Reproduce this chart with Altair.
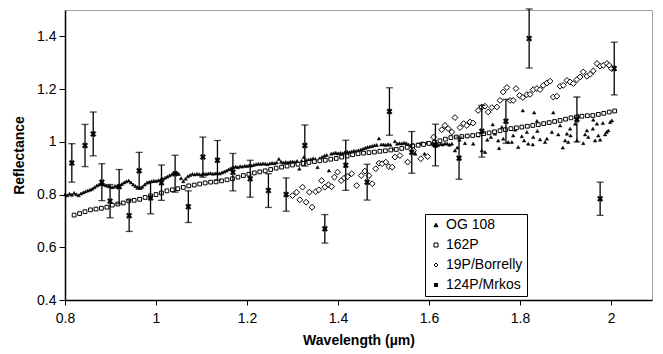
import altair as alt
import pandas as pd

# ---------------- data ----------------
series_names = ["OG 108", "162P", "19P/Borrelly", "124P/Mrkos"]

x_ticks = [0.8, 1.0, 1.2, 1.4, 1.6, 1.8, 2.0]
y_ticks = [0.4, 0.6, 0.8, 1.0, 1.2, 1.4]

og_band_x = [
    0.800, 0.805, 0.810, 0.815, 0.820, 0.825, 0.830, 0.835, 0.840, 0.845,
    0.850, 0.855, 0.860, 0.865, 0.870, 0.875, 0.880, 0.885, 0.890, 0.895,
    0.900, 0.905, 0.910, 0.915, 0.920, 0.925, 0.930, 0.935, 0.940, 0.945,
    0.950, 0.955, 0.960, 0.965, 0.970, 0.975, 0.980, 0.985, 0.990, 0.995,
    1.000, 1.005, 1.010, 1.015, 1.020, 1.025, 1.030, 1.035, 1.040, 1.045,
    1.050, 1.055, 1.060, 1.065, 1.070, 1.075, 1.080, 1.085, 1.090, 1.095,
    1.100, 1.105, 1.110, 1.115, 1.120, 1.125, 1.130, 1.135, 1.140, 1.145,
    1.150, 1.155, 1.160, 1.165, 1.170, 1.175, 1.180, 1.185, 1.190, 1.195,
    1.200, 1.205, 1.210, 1.215, 1.220, 1.225, 1.230, 1.235, 1.240, 1.245,
    1.250, 1.255, 1.260, 1.265, 1.270, 1.275, 1.280, 1.285, 1.290, 1.295,
    1.300, 1.305, 1.310, 1.315, 1.320, 1.325, 1.330, 1.335, 1.340, 1.345,
    1.350, 1.355, 1.360, 1.365, 1.370, 1.375, 1.380, 1.385, 1.390, 1.395,
    1.400, 1.405, 1.410, 1.415, 1.420, 1.425, 1.430, 1.435, 1.440, 1.445,
    1.450, 1.455, 1.460, 1.465, 1.470, 1.475, 1.480, 1.485, 1.490, 1.495,
    1.500, 1.505, 1.510, 1.515, 1.520, 1.525, 1.530, 1.535, 1.540, 1.545,
    1.550, 1.555, 1.560, 1.565, 1.570, 1.575, 1.580, 1.585, 1.590, 1.595,
    1.600, 1.605, 1.610, 1.615, 1.620, 1.625, 1.630, 1.635, 1.640, 1.645,
]
og_band_y = [
    0.800, 0.797, 0.803, 0.799, 0.806, 0.801, 0.797, 0.804, 0.808, 0.812,
    0.815, 0.818, 0.822, 0.828, 0.834, 0.838, 0.842, 0.838, 0.835, 0.832,
    0.830, 0.828, 0.832, 0.830, 0.836, 0.840, 0.846, 0.850, 0.853, 0.846,
    0.838, 0.832, 0.828, 0.826, 0.830, 0.838, 0.845, 0.848, 0.850, 0.852,
    0.851, 0.854, 0.856, 0.860, 0.864, 0.868, 0.873, 0.877, 0.882, 0.884,
    0.878, 0.862, 0.850, 0.860, 0.869, 0.874, 0.878, 0.876, 0.879, 0.877,
    0.875, 0.879, 0.878, 0.880, 0.881, 0.879, 0.880, 0.883, 0.880, 0.884,
    0.887, 0.891, 0.896, 0.900, 0.904, 0.906, 0.904, 0.907, 0.906, 0.909,
    0.908, 0.911, 0.910, 0.913, 0.915, 0.917, 0.916, 0.918, 0.917, 0.915,
    0.918, 0.920, 0.919, 0.922, 0.935, 0.924, 0.921, 0.923, 0.922, 0.924,
    0.925, 0.923, 0.927, 0.898, 0.928, 0.942, 0.930, 0.932, 0.934, 0.937,
    0.935, 0.904, 0.938, 0.942, 0.947, 0.950, 0.891, 0.955, 0.957, 0.959,
    0.956, 0.958, 0.957, 0.960, 0.962, 0.961, 0.963, 0.966, 0.965, 0.968,
    0.970, 0.974, 0.977, 0.980, 0.982, 0.984, 0.987, 0.988, 1.013, 0.990,
    0.990, 0.988, 0.991, 0.989, 0.974, 1.002, 0.993, 0.995, 0.994, 0.996,
    0.995, 0.990, 0.986, 0.990, 0.955, 0.992, 0.994, 0.996, 0.955, 0.996,
    0.995, 0.993, 0.990, 0.985, 0.988, 0.992, 0.990, 0.994, 0.993, 0.989,
]
og_tail_x = [
    1.650, 1.657, 1.662, 1.667, 1.679, 1.684, 1.697, 1.708, 1.716, 1.723,
    1.728, 1.736, 1.740, 1.745, 1.752, 1.754, 1.760, 1.763, 1.774, 1.782,
    1.785, 1.789, 1.796, 1.804, 1.806, 1.809, 1.815, 1.818, 1.828, 1.829,
    1.831, 1.837, 1.838, 1.844, 1.855, 1.859, 1.870, 1.873, 1.884, 1.888,
    1.894, 1.899, 1.903, 1.906, 1.910, 1.911, 1.921, 1.925, 1.928, 1.939,
    1.943, 1.947, 1.950, 1.960, 1.961, 1.965, 1.969, 1.972, 1.976, 1.982,
    1.987, 1.990, 1.994, 1.998, 2.002,
]
og_tail_y = [
    0.993, 0.967, 0.978, 1.008, 0.995, 1.024, 0.993, 1.024, 0.967, 0.961,
    1.008, 1.018, 1.066, 1.031, 1.005, 0.976, 1.056, 1.012, 0.999, 0.999,
    1.024, 1.046, 0.980, 1.021, 1.119, 1.005, 1.037, 0.993, 0.990, 1.018,
    1.111, 1.079, 1.041, 1.009, 0.999, 1.012, 1.037, 1.111, 1.028, 1.062,
    0.978, 1.005, 1.031, 0.999, 1.050, 1.024, 1.069, 1.005, 1.100, 0.995,
    1.028, 1.043, 1.018, 1.050, 1.084, 1.005, 1.069, 1.024, 1.008, 1.071,
    1.028, 1.037, 1.043, 1.075, 1.081,
]

p162_x = [
    0.820, 0.832, 0.844, 0.856, 0.868, 0.880, 0.892, 0.904, 0.916, 0.928,
    0.940, 0.952, 0.964, 0.976, 0.988, 1.000, 1.012, 1.024, 1.036, 1.048,
    1.060, 1.072, 1.084, 1.096, 1.108, 1.120, 1.132, 1.144, 1.156, 1.168,
    1.180, 1.192, 1.204, 1.216, 1.228, 1.240, 1.252, 1.264, 1.276, 1.288,
    1.300, 1.312, 1.324, 1.336, 1.348, 1.360, 1.372, 1.384, 1.396, 1.408,
    1.420, 1.432, 1.444, 1.456, 1.468, 1.480, 1.492, 1.504, 1.516, 1.528,
    1.540, 1.552, 1.564, 1.576, 1.588, 1.600, 1.612, 1.624, 1.636, 1.648,
    1.660, 1.672, 1.684, 1.696, 1.708, 1.720, 1.732, 1.744, 1.756, 1.768,
    1.780, 1.792, 1.804, 1.816, 1.828, 1.840, 1.852, 1.864, 1.876, 1.888,
    1.900, 1.912, 1.924, 1.936, 1.948, 1.960, 1.972, 1.984, 1.996, 2.008,
]
p162_y = [
    0.722, 0.728, 0.735, 0.742, 0.745, 0.748, 0.752, 0.760, 0.764, 0.768,
    0.776, 0.778, 0.782, 0.789, 0.795, 0.800, 0.806, 0.814, 0.818, 0.822,
    0.827, 0.833, 0.836, 0.840, 0.844, 0.847, 0.848, 0.852, 0.856, 0.860,
    0.866, 0.872, 0.877, 0.882, 0.886, 0.890, 0.895, 0.900, 0.904, 0.908,
    0.912, 0.915, 0.918, 0.922, 0.925, 0.928, 0.930, 0.934, 0.937, 0.942,
    0.946, 0.951, 0.955, 0.957, 0.959, 0.961, 0.964, 0.966, 0.969, 0.971,
    0.975, 0.979, 0.984, 0.987, 0.990, 0.994, 0.998, 1.004, 1.010, 1.016,
    1.018, 1.020, 1.022, 1.024, 1.027, 1.031, 1.034, 1.038, 1.042, 1.046,
    1.050, 1.053, 1.056, 1.059, 1.062, 1.065, 1.069, 1.073, 1.077, 1.081,
    1.086, 1.091, 1.094, 1.097, 1.099, 1.100, 1.104, 1.108, 1.113, 1.117,
]

bor_x = [
    1.300, 1.309, 1.316, 1.322, 1.330, 1.337, 1.343, 1.351, 1.358, 1.364,
    1.371, 1.379, 1.386, 1.392, 1.399, 1.407, 1.414, 1.421, 1.430, 1.441,
    1.451, 1.459, 1.468, 1.475, 1.483, 1.490, 1.497, 1.505, 1.512, 1.519,
    1.525, 1.536, 1.553, 1.566, 1.582, 1.597, 1.610, 1.628, 1.635, 1.642,
    1.650, 1.657, 1.668, 1.676, 1.683, 1.690, 1.697, 1.708, 1.716, 1.723,
    1.730, 1.738, 1.749, 1.756, 1.763, 1.771, 1.778, 1.785, 1.791, 1.799,
    1.806, 1.815, 1.822, 1.829, 1.837, 1.844, 1.851, 1.859, 1.866, 1.873,
    1.881, 1.888, 1.895, 1.903, 1.910, 1.917, 1.925, 1.932, 1.939, 1.947,
    1.954, 1.961, 1.969, 1.976, 1.983, 1.991, 1.996, 2.001,
]
bor_y = [
    0.796, 0.809, 0.780, 0.828, 0.771, 0.809, 0.752, 0.811, 0.818, 0.853,
    0.828, 0.837, 0.830, 0.866, 0.885, 0.853, 0.863, 0.868, 0.879, 0.834,
    0.872, 0.889, 0.872, 0.841, 0.898, 0.919, 0.917, 0.923, 0.906, 0.904,
    0.942, 0.948, 0.923, 0.967, 0.936, 0.944, 1.018, 1.046, 1.062, 1.050,
    1.037, 1.092, 1.054, 1.069, 1.062, 1.075, 1.071, 1.119, 1.132, 1.135,
    1.113, 1.130, 1.132, 1.157, 1.189, 1.206, 1.157, 1.157, 1.202, 1.176,
    1.168, 1.179, 1.180, 1.198, 1.202, 1.198, 1.214, 1.223, 1.230, 1.170,
    1.173, 1.211, 1.214, 1.233, 1.227, 1.221, 1.236, 1.246, 1.265, 1.249,
    1.256, 1.269, 1.297, 1.287, 1.290, 1.297, 1.290, 1.278,
]

mk_x = [
    0.815, 0.844, 0.862, 0.881, 0.899, 0.919, 0.941, 0.963, 0.988, 1.012,
    1.042, 1.071, 1.103, 1.135, 1.169, 1.207, 1.247, 1.286, 1.327, 1.371,
    1.417, 1.464, 1.513, 1.562, 1.614, 1.666, 1.716, 1.769, 1.820, 1.925,
    1.976, 2.007,
]
mk_y = [
    0.920, 0.986, 1.030, 0.847, 0.775, 0.830, 0.720, 0.890, 0.787, 0.845,
    0.879, 0.754, 0.942, 0.930, 0.885, 0.860, 0.815, 0.800, 0.986, 0.670,
    0.911, 0.847, 1.115, 0.960, 0.988, 0.938, 1.040, 1.078, 1.392, 1.085,
    0.784, 1.278,
]
mk_err = [
    0.073, 0.080, 0.083, 0.070, 0.063, 0.065, 0.060, 0.070, 0.060, 0.067,
    0.070, 0.060, 0.076, 0.075, 0.071, 0.070, 0.064, 0.063, 0.078, 0.054,
    0.095, 0.068, 0.090, 0.079, 0.079, 0.080, 0.098, 0.083, 0.112, 0.085,
    0.063, 0.100,
]

# ---------------- tables ----------------
og_df = pd.DataFrame({"x": og_band_x + og_tail_x, "y": og_band_y + og_tail_y,
                      "series": "OG 108"})
p162_df = pd.DataFrame({"x": p162_x, "y": p162_y, "series": "162P"})
bor_df = pd.DataFrame({"x": bor_x, "y": bor_y, "series": "19P/Borrelly"})
mk_df = pd.DataFrame({"x": mk_x, "y": mk_y, "err": mk_err, "series": "124P/Mrkos"})
mk_df["lo"] = mk_df["y"] - mk_df["err"]
mk_df["hi"] = mk_df["y"] + mk_df["err"]

FONT = "Liberation Sans"
X_PATH = ("M-1,-0.55L-0.55,-1L0,-0.45L0.55,-1L1,-0.55L0.45,0L1,0.55L0.55,1"
          "L0,0.45L-0.55,1L-1,0.55L-0.45,0Z")

xaxis = alt.Axis(values=x_ticks, format="~g", title="Wavelength (µm)", grid=False,
                 domainColor="black", domainWidth=1.5, tickColor="black", tickSize=5,
                 tickWidth=1, labelFont=FONT, labelFontSize=14, labelColor="black",
                 labelPadding=6, labelFlush=False, titleFont=FONT, titleFontSize=14,
                 titleFontWeight="bold", titleColor="black", titlePadding=8)
yaxis = alt.Axis(values=y_ticks, format="~g", title="Reflectance", grid=False,
                 domainColor="black", domainWidth=1.5, tickColor="black", tickSize=6,
                 tickWidth=1, labelFont=FONT, labelFontSize=14, labelColor="black",
                 labelPadding=3, labelFlush=False, titleFont=FONT, titleFontSize=14,
                 titleFontWeight="bold", titleColor="black", titlePadding=10)
xscale = alt.Scale(domain=[0.8, 2.09], nice=False, zero=False)
yscale = alt.Scale(domain=[0.4, 1.5], nice=False, zero=False)

legend = alt.Legend(title=None, orient="none", legendX=360, legendY=204,
                    strokeColor="black", fillColor="white", padding=4,
                    labelFont=FONT, labelFontSize=14, labelColor="black",
                    symbolSize=16, symbolStrokeWidth=1,
                    rowPadding=6, labelOffset=3, cornerRadius=0)
shape_enc = alt.Shape("series:N", scale=alt.Scale(
    domain=series_names, range=["triangle-up", "square", "diamond", X_PATH]), legend=legend)
fill_enc = alt.Fill("series:N", scale=alt.Scale(
    domain=series_names, range=["black", "white", "white", "black"]), legend=legend)
stroke_enc = alt.Stroke("series:N", scale=alt.Scale(
    domain=series_names, range=["black", "black", "black", "black"]), legend=legend)


def points(df, size, sw):
    return alt.Chart(df).mark_point(filled=True, strokeWidth=sw,
                                    opacity=1, size=size).encode(
        x=alt.X("x:Q", scale=xscale, axis=xaxis),
        y=alt.Y("y:Q", scale=yscale, axis=yaxis),
        shape=shape_enc, fill=fill_enc, stroke=stroke_enc)


og_layer = points(og_df, 12, 0.5)
p162_layer = points(p162_df, 14, 1)
bor_layer = points(bor_df, 34, 1)

rules = alt.Chart(mk_df).mark_rule(color="black", strokeWidth=1.3).encode(
    x=alt.X("x:Q", scale=xscale, axis=xaxis),
    y=alt.Y("lo:Q", scale=yscale, axis=yaxis),
    y2="hi:Q")
cap_lo = alt.Chart(mk_df).mark_tick(color="black", orient="horizontal", size=7,
                                     thickness=1.3).encode(
    x=alt.X("x:Q", scale=xscale, axis=xaxis),
    y=alt.Y("lo:Q", scale=yscale, axis=yaxis))
cap_hi = alt.Chart(mk_df).mark_tick(color="black", orient="horizontal", size=7,
                                     thickness=1.3).encode(
    x=alt.X("x:Q", scale=xscale, axis=xaxis),
    y=alt.Y("hi:Q", scale=yscale, axis=yaxis))
mk_layer = points(mk_df, 30, 0.5)

chart = alt.layer(og_layer, p162_layer, bor_layer, rules, cap_lo, cap_hi, mk_layer).properties(
    width=587, height=290,
    autosize=alt.AutoSizeParams(type="none"),
    padding={"left": 65, "top": 10, "right": 11, "bottom": 54},
    background="white",
).configure_view(stroke="#a0a0a0", strokeWidth=1)

chart.save("out.html", embed_options={"renderer": "svg", "actions": False})
